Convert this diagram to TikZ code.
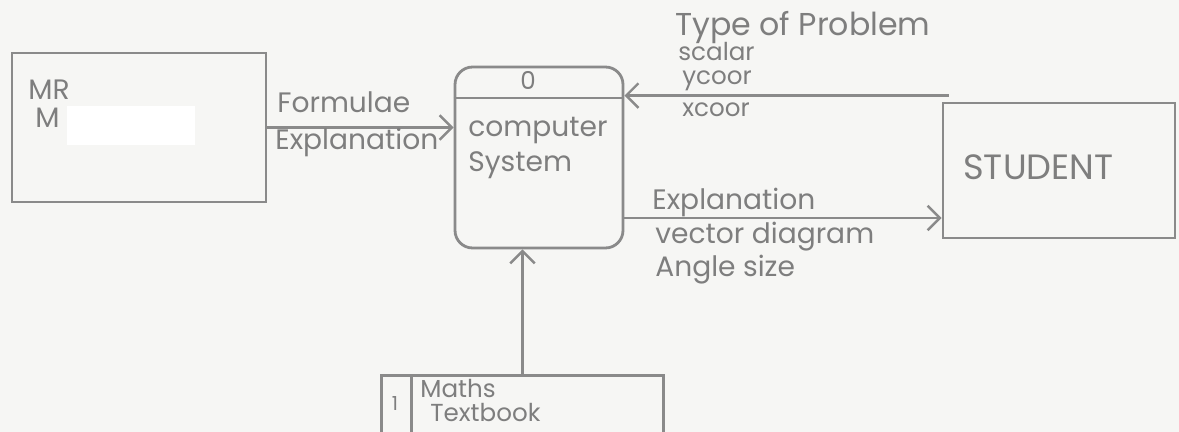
\documentclass[tikz,border=0pt]{standalone}
\usepackage{fontspec}
\setmainfont{Poppins}
\usetikzlibrary{arrows.meta,calc}
\definecolor{paper}{HTML}{F6F6F4}
\definecolor{ink}{HTML}{8A8A8A}
\definecolor{txt}{HTML}{7E7E7E}
\tikzset{
  box/.style={draw=ink, line width=1.6pt, inner sep=0pt},
  arr/.style={draw=ink, line width=1.6pt, -{Straight Barb[length=7pt,width=14pt,line width=1.4pt]}},
  lbl/.style={text=txt, anchor=base west, inner sep=0pt, font=\fontsize{16}{18}\selectfont},
  small/.style={font=\fontsize{14}{15}\selectfont},
}
\begin{document}
\begin{tikzpicture}[x=0.02cm,y=-0.02cm]
\fill[paper] (0,0) rectangle (1179,432);
\useasboundingbox (0,0) rectangle (1179,432);
% external entity MR M
\node[box, minimum width=5.08cm, minimum height=2.98cm] (mr) at (139,127.5) {};
\fill[white] (67,106) rectangle (195,145);
\node[lbl] (mrt) at (28,100) {MR};
\node[lbl] (mt) at (35,128) {M};
% process
\node[box, rounded corners=0.35cm, minimum width=3.36cm, minimum height=3.62cm] (cs) at (539,157.5) {};
\coordinate (div) at (539,98);
\draw[ink, line width=1.6pt] (cs.west |- div) -- (cs.east |- div);
\node[lbl, small, anchor=base] (pid) at (528,90) {0};
\node[lbl] (cst1) at (468,137) {computer};
\node[lbl] (cst2) at (468,172) {System};
% student
\node[box, minimum width=4.64cm, minimum height=2.7cm] (student) at (1059,170.5) {};
\node[lbl, font=\fontsize{20}{22}\selectfont] (stt) at (963,180) {STUDENT};
% data store
\node[minimum width=5.62cm, minimum height=1.12cm, inner sep=0pt] (tb) at (522.5,404) {};
\draw[ink, line width=1.6pt] (tb.south west) -- (tb.north west) -- (tb.north east) -- (tb.south east);
\draw[ink, line width=1.6pt] ($(tb.north west)+(30,0)$) -- ($(tb.south west)+(30,0)$);
\node[lbl, anchor=base, font=\fontsize{11}{12}\selectfont] (dsid) at (395,410) {1};
\node[lbl, small] (tbt1) at (420,397) {Maths};
\node[lbl, small] (tbt2) at (430,421) {Textbook};
% flows
\draw[arr] (mr.east) -- (mr.east -| cs.west);
\node[lbl] (f1) at (277,113) {Formulae};
\node[lbl] (f2) at (275,150) {Explanation};
\coordinate (s0) at ($(student.north west)+(7,-6)$);
\draw[arr] (s0) -- (s0 -| cs.east);
\node[lbl, font=\fontsize{18}{20}\selectfont] (g1) at (675,36) {Type of Problem};
\node[lbl, small] (g2) at (678,61) {scalar};
\node[lbl, small] (g3) at (682,85) {ycoor};
\node[lbl, small] (g4) at (682,117) {xcoor};
\coordinate (o0) at ($(cs.east)+(0,60.5)$);
\draw[arr] (o0) -- (o0 -| student.west);
\node[lbl] (h1) at (652,210) {Explanation};
\node[lbl] (h2) at (655,243) {vector diagram};
\node[lbl] (h3) at (655,276) {Angle size};
\draw[arr] (tb.north) -- (tb.north |- cs.south);
\end{tikzpicture}
\end{document}
